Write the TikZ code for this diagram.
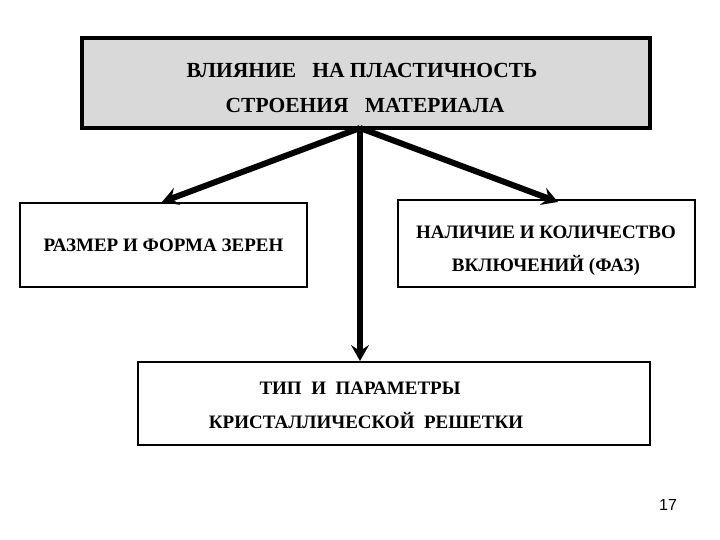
\documentclass[tikz,border=0pt]{standalone}
\usepackage{fontspec}
\setmainfont{Liberation Serif}
\setsansfont{Liberation Sans}
\usetikzlibrary{arrows.meta}
\begin{document}
\begin{tikzpicture}[x=1pt,y=-1pt,
  box/.style={draw,line width=1.8pt,fill=white,inner sep=0pt},
  arr/.style={line width=6pt,-{Stealth[length=16pt,width=18pt,inset=6pt]}},
  txt/.style={font=\rmfamily\bfseries\fontsize{19}{30}\selectfont,align=center},
  ttxt/.style={font=\rmfamily\bfseries\fontsize{21.5}{35}\selectfont,align=center}]
\useasboundingbox (0,0) rectangle (720,540);
\node[box,fill=gray!30,line width=4.5pt,minimum width=568pt,minimum height=90pt] (top) at (366,83) {};
\node[ttxt] (t1) at (362,70) {ВЛИЯНИЕ\ \ \ НА ПЛАСТИЧНОСТЬ};
\node[ttxt] (t2) at (365,105) {СТРОЕНИЯ\ \ \ МАТЕРИАЛА};
\node[box,minimum width=287pt,minimum height=84pt] (left) at (163.5,245) {};
\node[txt] (l1) at (163.5,245) {РАЗМЕР И ФОРМА ЗЕРЕН};
\node[box,minimum width=297pt,minimum height=87pt] (right) at (546.5,243.5) {};
\node[txt] (r1) at (546,232) {НАЛИЧИЕ И КОЛИЧЕСТВО};
\node[txt] (r2) at (546,265) {ВКЛЮЧЕНИЙ (ФАЗ)};
\node[box,minimum width=512pt,minimum height=83pt] (bot) at (394,403.5) {};
\node[txt] (b1) at (360,388) {ТИП\ \ И\ \ ПАРАМЕТРЫ};
\node[txt] (b2) at (366,420) {КРИСТАЛЛИЧЕСКОЙ\ \ РЕШЕТКИ};
\node[font=\sffamily\fontsize{16}{18}\selectfont] (pg) at (668,505) {17};
\coordinate (s) at (360,128);
\draw[arr] (s) -- (162,202);
\draw[arr] (s) -- (558,202);
\draw[arr] (s) -- (360,361);
\end{tikzpicture}
\end{document}
